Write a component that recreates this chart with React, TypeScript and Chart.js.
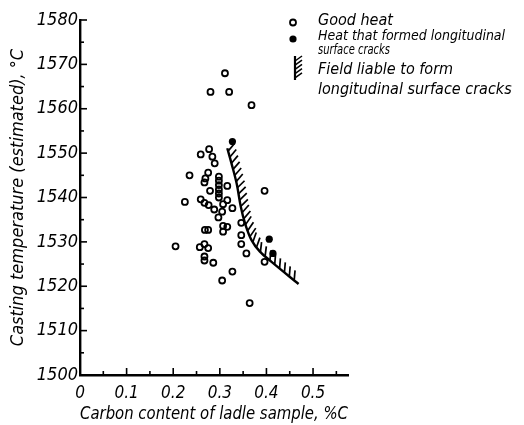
import React, { useEffect, useRef } from 'react';
import { Chart, registerables } from 'chart.js';

Chart.register(...registerables);

// Good heats (open circles): carbon %C, casting temperature °C
const goodHeatC = [
  0.311, 0.280, 0.320, 0.368,
  0.259, 0.277, 0.284, 0.289,
  0.275, 0.269, 0.267,
  0.298, 0.298, 0.298, 0.298, 0.298, 0.298,
  0.316, 0.279, 0.396,
  0.259, 0.267, 0.276, 0.288,
  0.307, 0.316, 0.327, 0.305, 0.297,
  0.346, 0.268, 0.275, 0.307, 0.316, 0.307,
  0.346, 0.346, 0.257, 0.267, 0.275,
  0.267, 0.267, 0.286, 0.357, 0.396,
  0.327, 0.305, 0.364,
  0.235, 0.225, 0.205,
];
const goodHeatT = [
  1568.0, 1563.8, 1563.8, 1560.8,
  1549.7, 1550.9, 1549.2, 1547.7,
  1545.6, 1544.3, 1543.4,
  1544.7, 1543.8, 1542.8, 1541.8, 1540.9, 1540.0,
  1542.6, 1541.5, 1541.5,
  1539.6, 1538.8, 1538.3, 1537.3,
  1538.5, 1539.4, 1537.6, 1536.8, 1535.5,
  1534.3, 1532.7, 1532.7, 1533.6, 1533.4, 1532.3,
  1531.5, 1529.5, 1528.8, 1529.5, 1528.6,
  1526.7, 1525.8, 1525.3, 1527.4, 1525.5,
  1523.3, 1521.3, 1516.2,
  1545.0, 1539.0, 1529.0,
];

// Heats that formed longitudinal surface cracks (filled dots)
const crackHeatC = [0.327, 0.406, 0.414];
const crackHeatT = [1552.6, 1530.6, 1527.4];

// Boundary of the field liable to form longitudinal surface cracks
const fieldC = [0.316, 0.325, 0.336, 0.345, 0.354, 0.368, 0.386, 0.411, 0.469];
const fieldT = [1551.1, 1547.7, 1543.2, 1537.9, 1534.2, 1530.4, 1527.8, 1525.5, 1520.5];

// Axes
const xMin = 0;
const xMax = 0.575;
const xStep = 0.05;
const xTickValues = [0, 0.1, 0.2, 0.3, 0.4, 0.5];
const xTickLabels = ['0', '0.1', '0.2', '0.3', '0.4', '0.5'];
const yMin = 1500;
const yMax = 1580;
const yStep = 5;
const yTickValues = [1500, 1510, 1520, 1530, 1540, 1550, 1560, 1570, 1580];
const yTickLabels = ['1500', '1510', '1520', '1530', '1540', '1550', '1560', '1570', '1580'];

const xTitle = 'Carbon content of ladle sample, %C';
const yTitle = 'Casting temperature (estimated), °C';

const legendGood = ['Good heat'];
const legendCrack = ['Heat that formed longitudinal', 'surface cracks'];
const legendField = ['Field liable to form', 'longitudinal surface cracks'];

const FONT = "'Liberation Sans Narrow', 'DejaVu Sans Condensed', 'Liberation Sans', sans-serif";

function findLabel(values: number[], labels: string[], v: number): string {
  for (let i = 0; i < values.length; i++) {
    if (Math.abs(values[i] - v) < 1e-6) return labels[i];
  }
  return '';
}

const tickPlugin = {
  id: 'innerTicks',
  afterDraw(chart: any) {
    const ctx = chart.ctx;
    const xs = chart.scales.x;
    const ys = chart.scales.y;
    const area = chart.chartArea;
    ctx.save();
    ctx.strokeStyle = '#000';
    ctx.lineWidth = 1.6;
    ys.ticks.forEach((t: any) => {
      const py = ys.getPixelForValue(t.value);
      const major = findLabel(yTickValues, yTickLabels, t.value) !== '';
      ctx.beginPath();
      ctx.moveTo(area.left, py);
      ctx.lineTo(area.left + (major ? 7 : 4), py);
      ctx.stroke();
    });
    xs.ticks.forEach((t: any) => {
      const px = xs.getPixelForValue(t.value);
      const major = findLabel(xTickValues, xTickLabels, t.value) !== '';
      ctx.beginPath();
      ctx.moveTo(px, area.bottom);
      ctx.lineTo(px, area.bottom - (major ? 7 : 4));
      ctx.stroke();
    });
    ctx.restore();
  },
};

const hatchPlugin = {
  id: 'hatch',
  afterDatasetsDraw(chart: any) {
    const ctx = chart.ctx;
    const xs = chart.scales.x;
    const ys = chart.scales.y;
    const pts = fieldC.map((c, i) => ({ x: xs.getPixelForValue(c), y: ys.getPixelForValue(fieldT[i]) }));
    const spacing = 6.3;
    const len = 10;
    ctx.save();
    ctx.strokeStyle = '#000';
    ctx.lineWidth = 1.7;
    let carry = 3;
    for (let i = 0; i < pts.length - 1; i++) {
      const a = pts[i];
      const b = pts[i + 1];
      const dx = b.x - a.x;
      const dy = b.y - a.y;
      const segLen = Math.hypot(dx, dy);
      const tx = dx / segLen;
      const ty = dy / segLen;
      const nAng = Math.atan2(-tx, ty) - 0.6;
      const sx = Math.cos(nAng);
      const sy = Math.sin(nAng);
      let d = carry;
      while (d < segLen) {
        const px = a.x + tx * d;
        const py = a.y + ty * d;
        ctx.beginPath();
        ctx.moveTo(px, py);
        ctx.lineTo(px + sx * len, py + sy * len);
        ctx.stroke();
        d += spacing;
      }
      carry = d - segLen;
    }
    ctx.restore();
  },
};

const legendPlugin = {
  id: 'customLegend',
  afterDraw(chart: any) {
    const ctx = chart.ctx;
    ctx.save();
    ctx.fillStyle = '#000';
    ctx.strokeStyle = '#000';
    // open circle
    ctx.lineWidth = 1.8;
    ctx.beginPath();
    ctx.arc(293, 22.5, 3, 0, Math.PI * 2);
    ctx.stroke();
    // filled dot
    ctx.beginPath();
    ctx.arc(293, 39, 3.6, 0, Math.PI * 2);
    ctx.fill();
    // hatch icon
    ctx.lineWidth = 2.2;
    ctx.beginPath();
    ctx.moveTo(295, 56);
    ctx.lineTo(295, 80);
    ctx.stroke();
    ctx.lineWidth = 1.5;
    for (let k = 0; k < 5; k++) {
      const y = 61 + k * 4.2;
      ctx.beginPath();
      ctx.moveTo(295, y);
      ctx.lineTo(302, y - 5);
      ctx.stroke();
    }
    ctx.textBaseline = 'middle';
    ctx.textAlign = 'left';
    ctx.font = `italic 16px ${FONT}`;
    ctx.fillText(legendGood[0], 318, 21, 76);
    ctx.font = `italic 14px ${FONT}`;
    ctx.fillText(legendCrack[0], 318, 36.5, 194);
    ctx.fillText(legendCrack[1], 318, 50, 72);
    ctx.font = `italic 16px ${FONT}`;
    ctx.fillText(legendField[0], 318, 70, 160);
    ctx.fillText(legendField[1], 318, 89.5, 195);
    ctx.restore();
  },
};

export default function App() {
  const ref = useRef<HTMLCanvasElement | null>(null);
  useEffect(() => {
    if (!ref.current) return;
    const chart = new Chart(ref.current, {
      type: 'scatter',
      data: {
        datasets: [
          {
            type: 'line',
            label: 'Field liable to form longitudinal surface cracks',
            data: fieldC.map((c, i) => ({ x: c, y: fieldT[i] })),
            borderColor: '#000',
            borderWidth: 2.4,
            pointRadius: 0,
            tension: 0.35,
            fill: false,
          } as any,
          {
            label: 'Good heat',
            data: goodHeatC.map((c, i) => ({ x: c, y: goodHeatT[i] })),
            pointStyle: 'circle',
            pointRadius: 3,
            borderWidth: 1.8,
            borderColor: '#000',
            backgroundColor: 'rgba(255,255,255,0)',
          },
          {
            label: 'Heat that formed longitudinal surface cracks',
            data: crackHeatC.map((c, i) => ({ x: c, y: crackHeatT[i] })),
            pointStyle: 'circle',
            pointRadius: 3.6,
            borderWidth: 0,
            backgroundColor: '#000',
          },
        ],
      },
      options: {
        animation: false,
        responsive: false,
        devicePixelRatio: 1,
        layout: { padding: { top: 20, right: 176, left: 0, bottom: 0 } },
        plugins: { legend: { display: false }, tooltip: { enabled: false } },
        scales: {
          x: {
            type: 'linear',
            min: xMin,
            max: xMax,
            grid: { display: false, drawTicks: false },
            border: { display: true, color: '#000', width: 2.4 },
            ticks: {
              stepSize: xStep,
              includeBounds: false,
              autoSkip: false,
              maxRotation: 0,
              padding: 8,
              color: '#000',
              font: { family: FONT, size: 17, style: 'italic' },
              callback: (v: any) => findLabel(xTickValues, xTickLabels, Number(v)),
            },
            title: {
              display: true,
              text: xTitle,
              color: '#000',
              padding: { top: 0, bottom: 0 },
              font: { family: FONT, size: 17, style: 'italic' },
            },
            afterFit: (s: any) => { s.height = 50; },
          },
          y: {
            type: 'linear',
            min: yMin,
            max: yMax,
            grid: { display: false, drawTicks: false },
            border: { display: true, color: '#000', width: 2.4 },
            ticks: {
              stepSize: yStep,
              includeBounds: false,
              autoSkip: false,
              padding: 2,
              color: '#000',
              font: { family: FONT, size: 18, style: 'italic' },
              callback: (v: any) => findLabel(yTickValues, yTickLabels, Number(v)),
            },
            title: {
              display: true,
              text: yTitle,
              color: '#000',
              padding: { top: 8, bottom: 0 },
              font: { family: FONT, size: 18, style: 'italic' },
            },
            afterFit: (s: any) => { s.width = 80; },
          },
        },
      },
      plugins: [tickPlugin, hatchPlugin, legendPlugin],
    });
    return () => chart.destroy();
  }, []);
  return (
    <div style={{ position: 'absolute', left: 0, top: 0, width: 524, height: 425, background: '#fff' }}>
      <canvas ref={ref} width={524} height={425} style={{ width: 524, height: 425, display: 'block' }} />
    </div>
  );
}
